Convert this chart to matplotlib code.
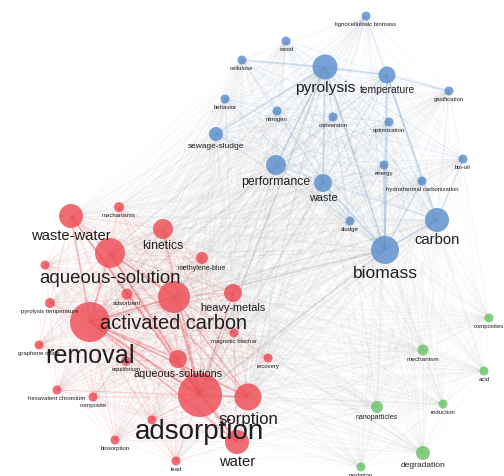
"""Keyword co-occurrence network (three clusters)."""

import itertools

import matplotlib.pyplot as plt
from matplotlib.collections import LineCollection
from matplotlib.colors import to_rgba
from matplotlib.patches import Circle

plt.rcParams["font.family"] = ["Liberation Sans", "DejaVu Sans"]

# layout coordinates (map units, y grows downwards) and node weight
blue_names = ["lignocellulosic biomass", "wood", "cellulose", "pyrolysis", "temperature",
              "gasification", "behavior", "nitrogen", "conversion", "optimization",
              "sewage-sludge", "performance", "waste", "energy",
              "hydrothermal carbonization", "bio-oil", "sludge", "carbon", "biomass"]
blue_x = [366, 286, 242, 325, 387, 449, 225, 277, 333, 389, 216, 276, 323, 384, 422, 463, 350, 437, 385]
blue_y = [16, 41, 60, 67, 75, 91, 99, 111, 117, 122, 134, 165, 183, 165, 181, 159, 221, 220, 250]
blue_w = [4.5, 4.5, 4.5, 12.5, 8.5, 4.5, 4.5, 4.5, 4.5, 4.5, 7, 10, 9, 4.5, 4.5, 4.5, 4.5, 12, 14]

red_names = ["waste-water", "mechanisms", "kinetics", "aqueous-solution", "",
             "methylene-blue", "adsorbent", "pyrolysis temperature", "activated carbon",
             "removal", "heavy-metals", "magnetic biochar", "graphene oxide", "equilibrium",
             "aqueous-solutions", "recovery", "adsorption", "sorption",
             "hexavalent chromium", "composite", "", "biosorption", "lead", "water"]
red_x = [71, 119, 163, 110, 45, 202, 127, 50, 174, 90, 233, 234, 39, 126, 178, 268, 200, 248,
         57, 93, 152, 115, 176, 237]
red_y = [216, 207, 229, 253, 265, 258, 294, 303, 297, 322, 293, 333, 345, 361, 359, 358, 395, 397,
         390, 397, 420, 440, 461, 442]
red_w = [12, 5, 10, 15, 4.5, 6, 5.5, 5, 16, 20, 9, 4.5, 4.5, 5, 9, 4.5, 22, 13.5,
         4.5, 4.5, 4.5, 4.5, 4.5, 12]

green_names = ["composites", "mechanism", "acid", "nanoparticles", "reduction",
               "degradation", "oxidation"]
green_x = [489, 423, 484, 377, 443, 423, 361]
green_y = [318, 350, 371, 407, 404, 453, 467]
green_w = [4.5, 5.5, 4.5, 6, 4.5, 7, 4.5]

# strongest links
strong_links = [
    ("pyrolysis", "temperature"), ("pyrolysis", "biomass"), ("pyrolysis", "cellulose"),
    ("pyrolysis", "waste"), ("pyrolysis", "performance"), ("temperature", "biomass"),
    ("temperature", "gasification"), ("biomass", "carbon"), ("biomass", "waste"),
    ("biomass", "hydrothermal carbonization"), ("biomass", "energy"), ("carbon", "bio-oil"),
    ("temperature", "carbon"), ("pyrolysis", "sewage-sludge"),
    ("removal", "adsorption"), ("removal", "activated carbon"), ("removal", "aqueous-solution"),
    ("aqueous-solution", "adsorption"), ("activated carbon", "adsorption"),
    ("adsorption", "sorption"), ("adsorption", "water"), ("removal", "aqueous-solutions"),
    ("waste-water", "removal"), ("waste-water", "adsorption"), ("kinetics", "adsorption"),
    ("heavy-metals", "adsorption"), ("sorption", "removal"), ("water", "removal"),
    ("activated carbon", "aqueous-solution"), ("activated carbon", "sorption"),
    ("biomass", "adsorption"), ("pyrolysis", "adsorption"), ("biomass", "removal"),
]

clusters = [
    (blue_names, blue_x, blue_y, blue_w, "#5b8fcb"),
    (red_names, red_x, red_y, red_w, "#ee4d55"),
    (green_names, green_x, green_y, green_w, "#6cc46a"),
]

nodes = []
for names, xs, ys, ws, color in clusters:
    for n, x, y, w in zip(names, xs, ys, ws):
        nodes.append((n, x, y, w, color))
lookup = {n: (x, y, w, c) for n, x, y, w, c in nodes if n}

fig = plt.figure(figsize=(5.04, 4.76), dpi=100)
ax = fig.add_axes([0, 0, 1, 1])
ax.set_xlim(0, 504)
ax.set_ylim(476, 0)
ax.axis("off")

# faint links between every pair
segs, cols, lws = [], [], []
for a, b in itertools.combinations(nodes, 2):
    strength = (a[3] * b[3]) / (22 * 22)
    segs.append([(a[1], a[2]), (b[1], b[2])])
    if a[4] == b[4]:
        cols.append(to_rgba(a[4], 0.07 + 0.3 * strength))
        lws.append(0.5 + 1.3 * strength)
    else:
        cols.append(to_rgba("#a0a0a0", 0.05 + 0.18 * strength))
        lws.append(0.5 + 1.0 * strength)
ax.add_collection(LineCollection(segs, colors=cols, linewidths=lws, zorder=1))

segs, cols = [], []
for a, b in strong_links:
    xa, ya, _, ca = lookup[a]
    xb, yb, _, cb = lookup[b]
    segs.append([(xa, ya), (xb, yb)])
    cols.append(to_rgba(ca if ca == cb else "#a0a0a0", 0.18))
ax.add_collection(LineCollection(segs, colors=cols, linewidths=1.3, zorder=1))

for n, x, y, w, color in nodes:
    ax.add_patch(Circle((x, y), w, facecolor=color, edgecolor="none", alpha=0.82, zorder=2))

for n, x, y, w, color in nodes:
    if not n:
        continue
    fs = max(4.3, 0.93 * w - 0.5)
    ax.text(x, y + w + fs / 72 * 100 * 0.5 + 1, n, ha="center", va="center",
            fontsize=fs, color="#1e1e1e", zorder=3)

fig.savefig("out.png", dpi=100, facecolor="white")
